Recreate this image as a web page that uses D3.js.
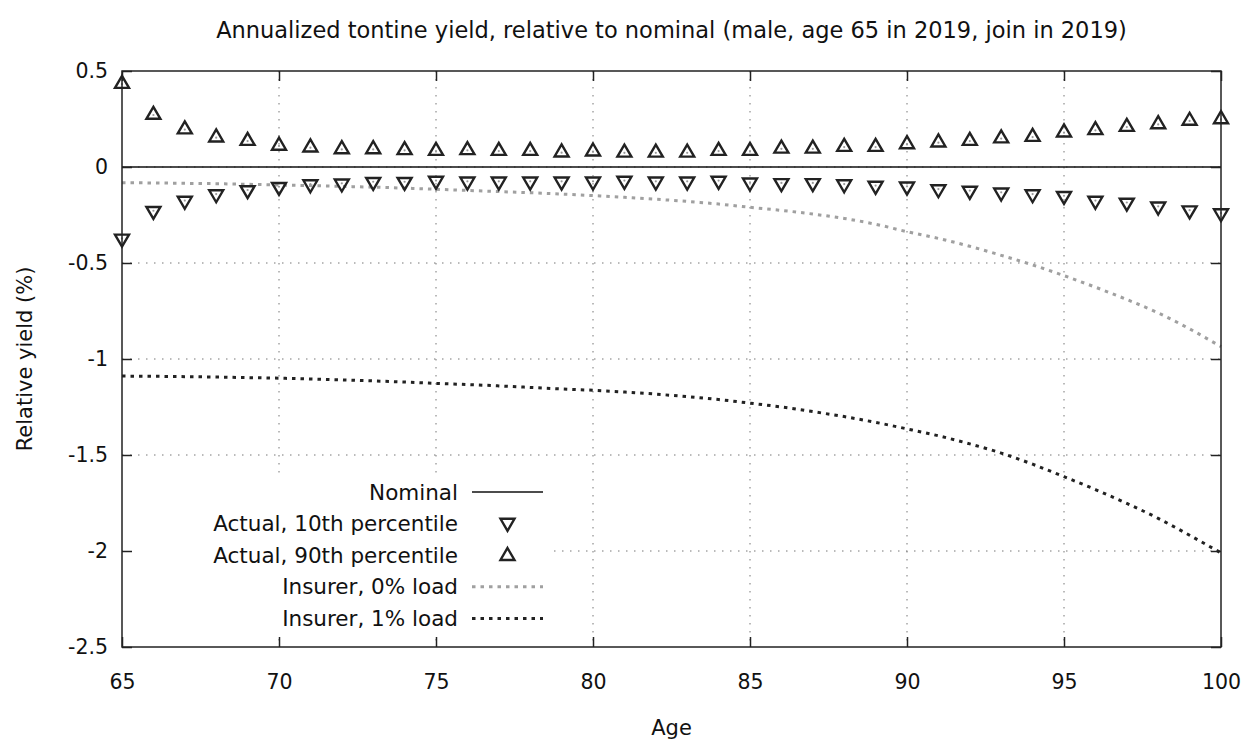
<!DOCTYPE html>
<html>
<head>
<meta charset="utf-8">
<script src="https://cdn.jsdelivr.net/npm/d3@7/dist/d3.min.js"></script>
<style>
  body { margin: 0; background: #fff; }
  text { font-family: "DejaVu Sans", sans-serif; fill: #111; }
</style>
</head>
<body>
<div id="chart"></div>
<script>
// data
const ages = d3.range(65, 101);
const p10 = [-0.377, -0.233, -0.180, -0.146, -0.125, -0.108, -0.094, -0.090, -0.082, -0.082,
  -0.076, -0.080, -0.080, -0.080, -0.080, -0.080, -0.076, -0.080, -0.080, -0.076,
  -0.085, -0.088, -0.088, -0.094, -0.102, -0.106, -0.120, -0.128, -0.137, -0.146,
  -0.155, -0.180, -0.190, -0.210, -0.230, -0.245];
const p90 = [0.437, 0.276, 0.200, 0.158, 0.140, 0.115, 0.106, 0.097, 0.097, 0.092,
  0.088, 0.092, 0.088, 0.088, 0.080, 0.085, 0.079, 0.079, 0.079, 0.088,
  0.088, 0.100, 0.100, 0.109, 0.109, 0.123, 0.132, 0.140, 0.153, 0.161,
  0.184, 0.196, 0.213, 0.227, 0.245, 0.253];
const load0 = [-0.082, -0.083, -0.085, -0.087, -0.090, -0.094, -0.097, -0.101, -0.105, -0.110,
  -0.116, -0.122, -0.128, -0.134, -0.141, -0.149, -0.158, -0.168, -0.179, -0.193,
  -0.210, -0.226, -0.245, -0.268, -0.298, -0.337, -0.372, -0.413, -0.460, -0.510,
  -0.566, -0.626, -0.690, -0.760, -0.843, -0.936];
const load1 = [-1.089, -1.090, -1.092, -1.094, -1.097, -1.100, -1.104, -1.109, -1.114, -1.120,
  -1.127, -1.133, -1.140, -1.148, -1.156, -1.163, -1.172, -1.183, -1.196, -1.211,
  -1.230, -1.250, -1.274, -1.300, -1.330, -1.364, -1.400, -1.442, -1.490, -1.548,
  -1.613, -1.680, -1.752, -1.830, -1.918, -2.010];
const xTicks = [65, 70, 75, 80, 85, 90, 95, 100];
const yTicks = [0.5, 0, -0.5, -1, -1.5, -2, -2.5];
const legendNames = ["Nominal", "Actual, 10th percentile", "Actual, 90th percentile", "Insurer, 0% load", "Insurer, 1% load"];

const W = 1250, H = 740;
const margin = { top: 71, right: 29, bottom: 93, left: 122 };
const width = W - margin.left - margin.right;
const height = H - margin.top - margin.bottom;

const svg = d3.select("#chart").append("svg").attr("width", W).attr("height", H);
const g = svg.append("g").attr("transform", `translate(${margin.left},${margin.top})`);

const x = d3.scaleLinear().domain([65, 100]).range([0, width]);
const y = d3.scaleLinear().domain([-2.5, 0.5]).range([height, 0]);

// grid
g.append("g").selectAll("line").data(xTicks.slice(1, -1)).join("line")
  .attr("x1", d => x(d)).attr("x2", d => x(d)).attr("y1", 0).attr("y2", height)
  .attr("stroke", "#777").attr("stroke-width", 1).attr("stroke-dasharray", "1.5,6.5");
g.append("g").selectAll("line").data(yTicks.slice(1, -1)).join("line")
  .attr("x1", 0).attr("x2", width).attr("y1", d => y(d)).attr("y2", d => y(d))
  .attr("stroke", "#777").attr("stroke-width", 1).attr("stroke-dasharray", "1.5,6.5");

// nominal
g.append("line").attr("x1", 0).attr("x2", width).attr("y1", y(0)).attr("y2", y(0))
  .attr("stroke", "#111").attr("stroke-width", 1.5);

const line = d3.line().x((d, i) => x(ages[i])).y(d => y(d)).curve(d3.curveMonotoneX);
g.append("path").datum(load0).attr("d", line).attr("fill", "none")
  .attr("stroke", "#a0a0a0").attr("stroke-width", 3).attr("stroke-dasharray", "3.5,5");
g.append("path").datum(load1).attr("d", line).attr("fill", "none")
  .attr("stroke", "#222").attr("stroke-width", 3).attr("stroke-dasharray", "3.5,5");

function tri(up) {
  const s = 7, h = 12;
  return up ? `M0,${-h * 0.6}L${s},${h * 0.4}L${-s},${h * 0.4}Z`
            : `M0,${h * 0.6}L${s},${-h * 0.4}L${-s},${-h * 0.4}Z`;
}
function marks(data, up) {
  const m = g.append("g").selectAll("g").data(data).join("g")
    .attr("transform", (d, i) => `translate(${x(ages[i])},${y(d)})`);
  m.append("path").attr("d", tri(up)).attr("fill", "none")
    .attr("stroke", "#222").attr("stroke-width", 2.4).attr("stroke-linejoin", "miter");
  m.append("circle").attr("r", 1.1).attr("cy", up ? 1 : -1).attr("fill", "#999");
}
marks(p10, false);
marks(p90, true);

// legend
const lg = g.append("g");
lg.append("rect").attr("x", 1).attr("y", 406).attr("width", 430).attr("height", 159).attr("fill", "#fff");
const rowY = i => 421 + i * 31.6;
lg.selectAll("text").data(legendNames).join("text")
  .attr("x", 336).attr("y", (d, i) => rowY(i)).attr("dy", "0.35em")
  .attr("text-anchor", "end").attr("font-size", 21.5).text(d => d);
const sx0 = 350, sx1 = 421;
lg.append("line").attr("x1", sx0).attr("x2", sx1).attr("y1", rowY(0)).attr("y2", rowY(0))
  .attr("stroke", "#111").attr("stroke-width", 1.5);
lg.append("path").attr("d", tri(false)).attr("transform", `translate(${(sx0 + sx1) / 2},${rowY(1)})`)
  .attr("fill", "none").attr("stroke", "#222").attr("stroke-width", 2.4);
lg.append("path").attr("d", tri(true)).attr("transform", `translate(${(sx0 + sx1) / 2},${rowY(2)})`)
  .attr("fill", "none").attr("stroke", "#222").attr("stroke-width", 2.4);
lg.append("line").attr("x1", sx0).attr("x2", sx1).attr("y1", rowY(3)).attr("y2", rowY(3))
  .attr("stroke", "#a0a0a0").attr("stroke-width", 3).attr("stroke-dasharray", "3.5,5");
lg.append("line").attr("x1", sx0).attr("x2", sx1).attr("y1", rowY(4)).attr("y2", rowY(4))
  .attr("stroke", "#222").attr("stroke-width", 3).attr("stroke-dasharray", "3.5,5");

// frame and ticks (mirrored, inward)
g.append("rect").attr("width", width).attr("height", height).attr("fill", "none")
  .attr("stroke", "#222").attr("stroke-width", 1.5);
const tl = 10;
g.append("g").attr("transform", `translate(0,${height})`)
  .call(d3.axisBottom(x).tickValues(xTicks).tickSizeInner(-tl).tickSizeOuter(0).tickPadding(27).tickFormat(d3.format("d")))
  .call(a => a.select(".domain").remove());
g.append("g")
  .call(d3.axisTop(x).tickValues(xTicks).tickSizeInner(-tl).tickSizeOuter(0).tickFormat(""))
  .call(a => a.select(".domain").remove());
g.append("g")
  .call(d3.axisLeft(y).tickValues(yTicks).tickSizeInner(-tl).tickSizeOuter(0).tickPadding(14).tickFormat(d => String(d)))
  .call(a => a.select(".domain").remove());
g.append("g").attr("transform", `translate(${width},0)`)
  .call(d3.axisRight(y).tickValues(yTicks).tickSizeInner(-tl).tickSizeOuter(0).tickFormat(""))
  .call(a => a.select(".domain").remove());
g.selectAll(".tick line").attr("stroke", "#222").attr("stroke-width", 1.5);
g.selectAll(".tick text").attr("font-size", 20.5).attr("font-family", "DejaVu Sans").attr("fill", "#111");

// titles
svg.append("text").attr("x", margin.left + width / 2).attr("y", 30).attr("dy", "0.35em")
  .attr("text-anchor", "middle").attr("font-size", 22.5)
  .text("Annualized tontine yield, relative to nominal (male, age 65 in 2019, join in 2019)");
svg.append("text").attr("x", margin.left + width / 2).attr("y", 728).attr("dy", "0.35em")
  .attr("text-anchor", "middle").attr("font-size", 21).text("Age");
svg.append("text").attr("transform", `translate(25,${margin.top + height / 2}) rotate(-90)`)
  .attr("dy", "0.35em").attr("text-anchor", "middle").attr("font-size", 21).text("Relative yield (%)");
</script>
</body>
</html>
